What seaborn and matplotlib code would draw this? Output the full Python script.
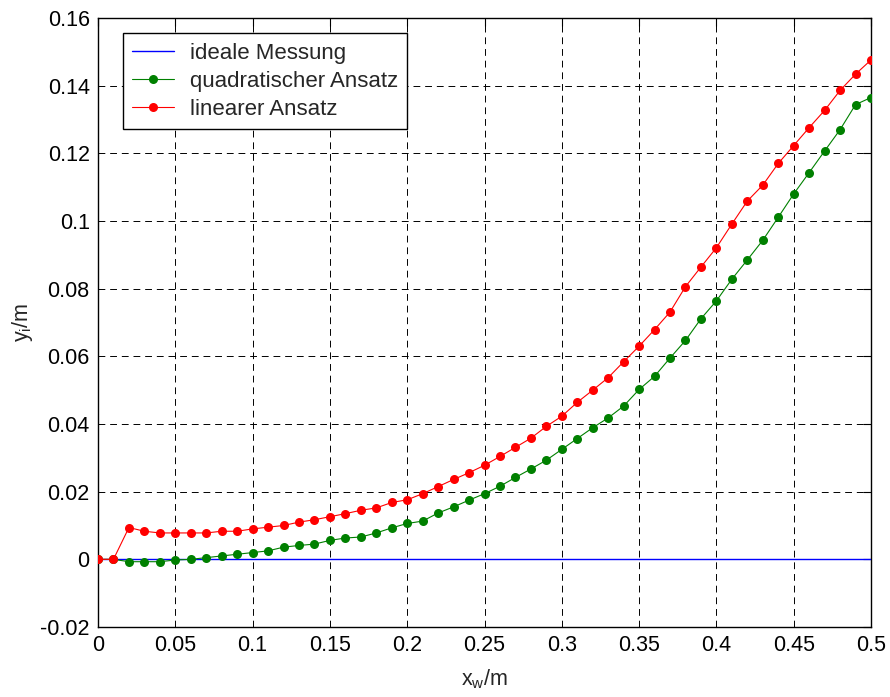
import matplotlib
matplotlib.use("Agg")
import matplotlib.pyplot as plt
import seaborn as sns
import pandas as pd
from matplotlib.ticker import FuncFormatter
from matplotlib.lines import Line2D

x_pos = [0.00, 0.01, 0.02, 0.03, 0.04, 0.05, 0.06, 0.07, 0.08, 0.09,
         0.10, 0.11, 0.12, 0.13, 0.14, 0.15, 0.16, 0.17, 0.18, 0.19,
         0.20, 0.21, 0.22, 0.23, 0.24, 0.25, 0.26, 0.27, 0.28, 0.29,
         0.30, 0.31, 0.32, 0.33, 0.34, 0.35, 0.36, 0.37, 0.38, 0.39,
         0.40, 0.41, 0.42, 0.43, 0.44, 0.45, 0.46, 0.47, 0.48, 0.49, 0.50]

linear = [0.0, 0.0, 0.0094, 0.0083, 0.0078, 0.0078, 0.0078, 0.0078, 0.0083, 0.0083,
          0.0090, 0.0095, 0.0100, 0.0110, 0.0117, 0.0126, 0.0135, 0.0145, 0.0152, 0.0168,
          0.0176, 0.0194, 0.0215, 0.0236, 0.0256, 0.0278, 0.0304, 0.0331, 0.0358, 0.0393,
          0.0423, 0.0464, 0.0500, 0.0537, 0.0584, 0.0630, 0.0679, 0.0731, 0.0806, 0.0864,
          0.0921, 0.0991, 0.1059, 0.1106, 0.1170, 0.1223, 0.1276, 0.1327, 0.1386, 0.1434, 0.1476]

quadratic = [0.0, 0.0, -0.0007, -0.0007, -0.0007, -0.0002, 0.0000, 0.0005, 0.0010, 0.0015,
             0.0020, 0.0025, 0.0036, 0.0041, 0.0045, 0.0056, 0.0063, 0.0066, 0.0078, 0.0093,
             0.0106, 0.0113, 0.0137, 0.0155, 0.0175, 0.0194, 0.0216, 0.0242, 0.0267, 0.0293,
             0.0325, 0.0357, 0.0389, 0.0418, 0.0453, 0.0502, 0.0541, 0.0595, 0.0647, 0.0711,
             0.0764, 0.0828, 0.0885, 0.0943, 0.1011, 0.1080, 0.1143, 0.1207, 0.1270, 0.1344, 0.1365]

ideal = [0.0] * len(x_pos)

series_names = ["ideale Messung", "quadratischer Ansatz", "linearer Ansatz"]
x_ticks = [0, 0.05, 0.1, 0.15, 0.2, 0.25, 0.3, 0.35, 0.4, 0.45, 0.5]
y_ticks = [-0.02, 0, 0.02, 0.04, 0.06, 0.08, 0.1, 0.12, 0.14, 0.16]

sns.set_style("white")
plt.rcParams["font.family"] = ["Liberation Sans", "DejaVu Sans"]
plt.rcParams["axes.unicode_minus"] = False
plt.rcParams["mathtext.fontset"] = "custom"
plt.rcParams["mathtext.rm"] = "Liberation Sans"
plt.rcParams["mathtext.it"] = "Liberation Sans"

fig = plt.figure(figsize=(8.9, 6.97), dpi=100)
ax = fig.add_axes([98 / 890, 1 - 627 / 697, 773 / 890, 609 / 697])

df = pd.DataFrame({"x": x_pos, "ideal": ideal, "quad": quadratic, "lin": linear})

sns.lineplot(data=df, x="x", y="ideal", ax=ax, color="#0000ff", lw=1.0, zorder=3)
sns.lineplot(data=df, x="x", y="quad", ax=ax, color="#008000", lw=0.8,
             marker="o", markersize=6.5, markeredgewidth=0, zorder=4)
sns.lineplot(data=df, x="x", y="lin", ax=ax, color="#ff0000", lw=0.8,
             marker="o", markersize=6.5, markeredgewidth=0, zorder=5)

ax.set_xlim(0, 0.5)
ax.set_ylim(-0.02, 0.16)
ax.set_xticks(x_ticks)
ax.set_yticks(y_ticks)
fmt = FuncFormatter(lambda v, p: ("%g" % round(v, 4)))
ax.xaxis.set_major_formatter(fmt)
ax.yaxis.set_major_formatter(fmt)

ax.grid(True, color="black", linestyle=(0, (7, 5)), linewidth=0.7, zorder=1)
ax.set_axisbelow(True)
ax.tick_params(direction="in", length=6, width=0.8, top=True, right=True,
               labelsize=15.5, pad=6, colors="black")
for s in ax.spines.values():
    s.set_visible(True)
    s.set_color("black")
    s.set_linewidth(1.0)

ax.set_xlabel(r"$\mathregular{x_w}$/m", fontsize=15.5, labelpad=8)
ax.set_ylabel(r"$\mathregular{y_i}$/m", fontsize=15.5, labelpad=4)

handles = [
    Line2D([], [], color="#0000ff", lw=1.0),
    Line2D([], [], color="#008000", lw=0.8, marker="o", markersize=6.5, markeredgewidth=0),
    Line2D([], [], color="#ff0000", lw=0.8, marker="o", markersize=6.5, markeredgewidth=0),
]
leg = ax.legend(handles, series_names, loc="upper left", bbox_to_anchor=(0.032, 0.975),
                borderaxespad=0, fontsize=16, frameon=True, fancybox=False,
                edgecolor="black", framealpha=1, numpoints=1, handlelength=1.9,
                handletextpad=0.7, labelspacing=0.32, borderpad=0.42)
leg.get_frame().set_linewidth(1.0)

fig.savefig("out.png", dpi=100, facecolor="white")
